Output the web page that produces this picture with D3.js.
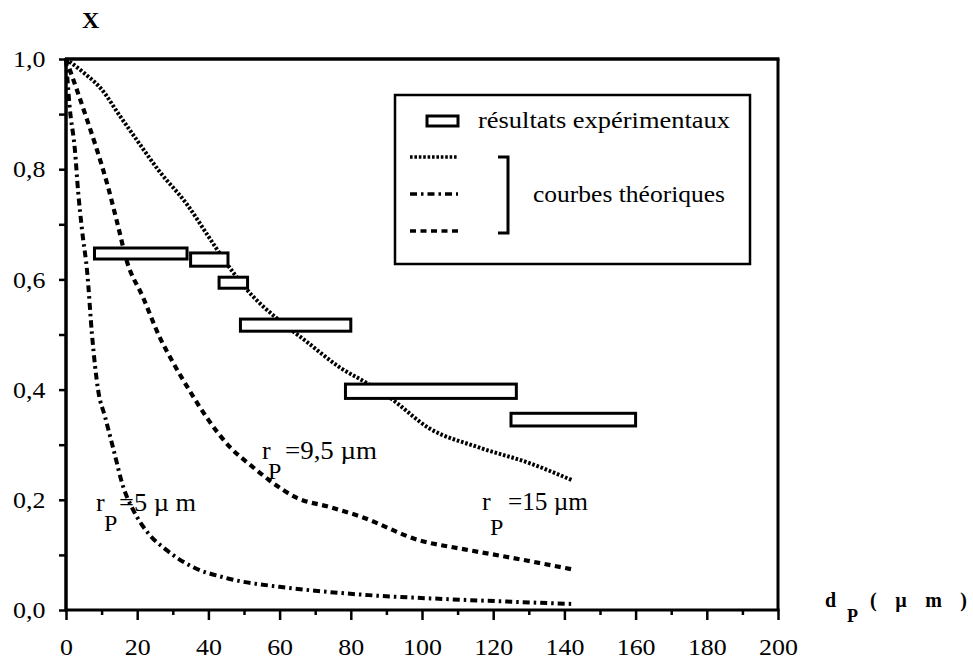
<!DOCTYPE html>
<html><head><meta charset="utf-8">
<script src="https://cdn.jsdelivr.net/npm/d3@7"></script>
<style>
body{margin:0;background:#fff;}
text{font-family:"Liberation Serif","Times New Roman",Times,serif;fill:#000;}
</style></head>
<body><svg id="c" width="973" height="663"></svg>
<script>
// ---- data ----
const xTicksMajor = [0,20,40,60,80,100,120,140,160,180,200];
const xTicksMinor = [10,30,50,70,90,110,130,150,170,190];
const yTicks = [0,0.1,0.2,0.3,0.4,0.5,0.6,0.7,0.8,0.9,1.0];
const yTickLabels = [0,0.2,0.4,0.6,0.8,1.0];

// theoretical curves: [d_P, X]
const curve15 = [[0,1.0],[5,0.975],[10,0.945],[15,0.898],[20,0.852],[26,0.798],[34,0.736],[40,0.678],[45,0.63],[51,0.58],[60,0.525],[67,0.49],[77,0.44],[85,0.41],[91,0.385],[102,0.33],[116,0.295],[130,0.267],[142,0.236]];
const curve95 = [[0,1.0],[3,0.945],[5.9,0.89],[8.7,0.835],[11.5,0.775],[14.5,0.70],[17,0.635],[21.6,0.568],[26.4,0.494],[30,0.45],[35,0.395],[40,0.345],[46,0.296],[52,0.262],[57,0.236],[65,0.203],[74,0.187],[83,0.169],[99,0.127],[112,0.11],[125,0.095],[142,0.074]];
const curve5 = [[0,1.0],[1,0.915],[2.5,0.835],[3.4,0.76],[4.5,0.69],[6,0.61],[7.3,0.50],[9,0.40],[11,0.35],[13.4,0.29],[16,0.225],[19,0.18],[23,0.14],[28,0.11],[35,0.08],[45,0.058],[60,0.042],[70,0.035],[85,0.027],[106,0.02],[125,0.015],[142,0.011]];

// experimental results: [xmin, xmax, ymin, ymax]
const experimental = [
  [8,34,0.637,0.657],
  [35,45.5,0.624,0.648],
  [43,51,0.584,0.604],
  [49,80,0.506,0.528],
  [78.5,126.5,0.384,0.41],
  [125,160,0.334,0.357]
];

const legendLabels = ["résultats expérimentaux","courbes théoriques"];

// ---- drawing ----
const svg = d3.select("#c");
const x = d3.scaleLinear().domain([0,200]).range([66,778]);
const y = d3.scaleLinear().domain([0,1]).range([610,59]);
const fmtY = v => d3.format(".1f")(v).replace(".",",");
const SERIF = '"Liberation Serif","Times New Roman",Times,serif';

// x axis minor ticks
svg.append("g").attr("transform",`translate(0,${y(0)})`)
  .call(d3.axisBottom(x).tickValues(xTicksMinor).tickSize(5).tickFormat(""))
  .call(g=>{g.select(".domain").remove();g.selectAll("line").attr("stroke-width",2.5);});
// x axis major ticks + labels
svg.append("g").attr("transform",`translate(0,${y(0)})`)
  .call(d3.axisBottom(x).tickValues(xTicksMajor).tickSize(10).tickPadding(18).tickFormat(d3.format("d")))
  .call(g=>{g.select(".domain").remove();g.selectAll("line").attr("stroke-width",2.5);
    g.selectAll("text").attr("font-size",24).attr("font-family",SERIF).attr("transform","scale(1.08,1)");});
// y axis
svg.append("g").attr("transform",`translate(${x(0)},0)`)
  .call(d3.axisLeft(y).tickValues(yTicks).tickSize(7).tickPadding(12)
    .tickFormat(v => yTickLabels.some(t=>Math.abs(t-v)<1e-9) ? fmtY(v) : ""))
  .call(g=>{g.select(".domain").remove();g.selectAll("line").attr("stroke-width",2.5);
    g.selectAll("text").attr("font-size",24).attr("font-family",SERIF).attr("transform","scale(1.08,1)");});

// frame
const frame = svg.append("g").attr("stroke","#000").attr("stroke-width",3.5).attr("fill","none");
frame.append("line").attr("x1",x(0)).attr("x2",x(0)).attr("y1",y(1)-1).attr("y2",y(0)+1.5);
frame.append("line").attr("x1",x(0)-1).attr("x2",x(200)+1.5).attr("y1",y(0)).attr("y2",y(0)).attr("stroke-width",3);
frame.append("line").attr("x1",x(0)-1).attr("x2",x(200)+1.5).attr("y1",y(1)).attr("y2",y(1));
frame.append("line").attr("x1",x(200)).attr("x2",x(200)).attr("y1",y(1)).attr("y2",y(0)).attr("stroke-width",3);

// curves
const line = d3.line().x(d=>x(d[0])).y(d=>y(d[1])).curve(d3.curveMonotoneX);
const styles = {
  dotted:{w:4,dash:"2.6,1.8"},
  dashdot:{w:4,dash:"7,4,2.5,4"},
  dashed:{w:4.2,dash:"6,4.5"}
};
[[curve15,styles.dotted],[curve5,styles.dashdot],[curve95,styles.dashed]].forEach(([c,s])=>{
  svg.append("path").attr("d",line(c)).attr("fill","none").attr("stroke","#000")
    .attr("stroke-width",s.w).attr("stroke-dasharray",s.dash);
});

// experimental rectangles
svg.append("g").selectAll("rect").data(experimental).join("rect")
  .attr("x",d=>x(d[0])).attr("width",d=>x(d[1])-x(d[0]))
  .attr("y",d=>y(d[3])).attr("height",d=>y(d[2])-y(d[3]))
  .attr("fill","#fff").attr("stroke","#000").attr("stroke-width",3);

// annotations
function label(xr,yr,xp,yp,xe,rest,len){
  svg.append("text").attr("x",xr).attr("y",yr).attr("font-size",26).text("r");
  svg.append("text").attr("x",xp).attr("y",yp).attr("font-size",24).text("P");
  svg.append("text").attr("x",xe).attr("y",yr).attr("font-size",26)
    .attr("textLength",len).attr("lengthAdjust","spacingAndGlyphs").text(rest);
}
label(262,459,268,479,285,"=9,5 µm",92);
label(482,510,490,535,508,"=15 µm",80);
label(96,511,104,531,119,"=5 µ m",77);

// legend
const lg = svg.append("g");
lg.append("rect").attr("x",395).attr("y",95).attr("width",355).attr("height",169)
  .attr("fill","#fff").attr("stroke","#000").attr("stroke-width",2.5);
lg.append("rect").attr("x",427).attr("y",116).attr("width",31).attr("height",10)
  .attr("fill","#fff").attr("stroke","#000").attr("stroke-width",3);
lg.append("text").attr("x",478).attr("y",128).attr("font-size",23)
  .attr("textLength",252).attr("lengthAdjust","spacingAndGlyphs").text(legendLabels[0]);
[[157,styles.dotted],[194,styles.dashdot],[231,styles.dashed]].forEach(([yy,s])=>{
  lg.append("line").attr("x1",410).attr("x2",458).attr("y1",yy).attr("y2",yy)
    .attr("stroke","#000").attr("stroke-width",s.w-0.5).attr("stroke-dasharray",s.dash);
});
lg.append("path").attr("d","M498,157 H508 V233 H498").attr("fill","none")
  .attr("stroke","#000").attr("stroke-width",3);
lg.append("text").attr("x",533).attr("y",202).attr("font-size",23)
  .attr("textLength",192).attr("lengthAdjust","spacingAndGlyphs").text(legendLabels[1]);

// axis titles
svg.append("text").attr("x",82).attr("y",28).attr("font-size",24).attr("font-weight","bold").text("X");
svg.append("text").attr("x",825).attr("y",607).attr("font-size",20).attr("font-weight","bold").text("d");
svg.append("text").attr("x",847).attr("y",622).attr("font-size",18).attr("font-weight","bold").text("P");
svg.append("text").attr("x",870).attr("y",607).attr("font-size",20).attr("font-weight","bold")
  .attr("textLength",97).attr("lengthAdjust","spacing").text("( µ m )");
</script></body></html>
